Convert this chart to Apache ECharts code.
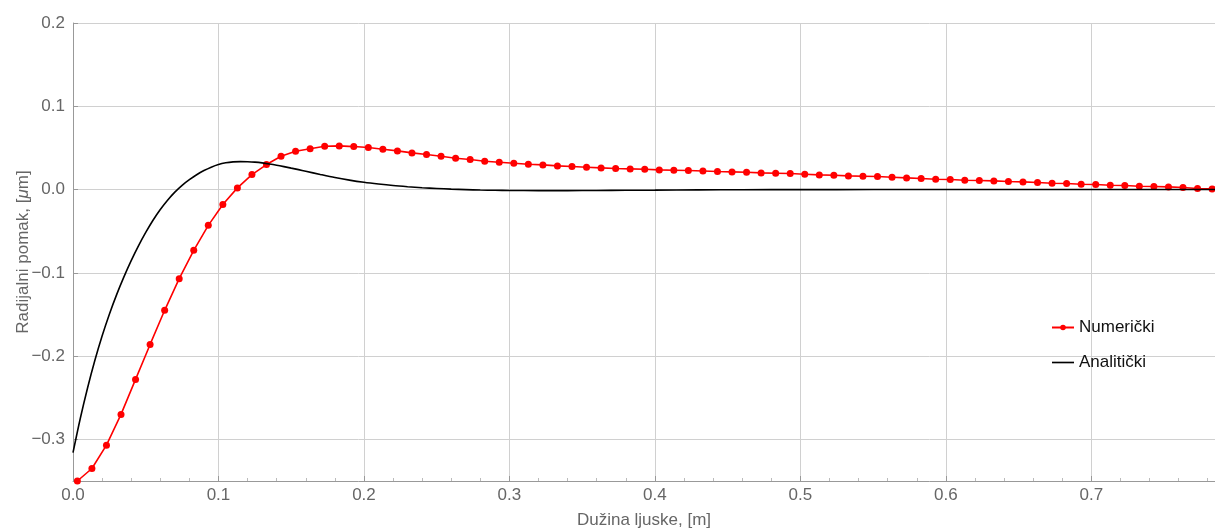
<!DOCTYPE html>
<html>
<head>
<meta charset="utf-8">
<script src="https://cdn.jsdelivr.net/npm/echarts@6/dist/echarts.min.js"></script>
<style>
html,body{margin:0;padding:0;background:#fff;}
#c{width:1215px;height:529px;}
</style>
</head>
<body>
<div id="c"></div>
<script>
// Numerical solution (red points)
const numX = [0.003,0.013,0.023,0.033,0.043,0.053,0.063,0.073,0.083,0.093,
  0.103,0.113,0.123,0.133,0.143,0.153,0.163,0.173,0.183,0.193,
  0.203,0.213,0.223,0.233,0.243,0.253,0.263,0.273,0.283,0.293,
  0.303,0.313,0.323,0.333,0.343,0.353,0.363,0.373,0.383,0.393,
  0.403,0.413,0.423,0.433,0.443,0.453,0.463,0.473,0.483,0.493,
  0.503,0.513,0.523,0.533,0.543,0.553,0.563,0.573,0.583,0.593,
  0.603,0.613,0.623,0.633,0.643,0.653,0.663,0.673,0.683,0.693,
  0.703,0.713,0.723,0.733,0.743,0.753,0.763,0.773,0.783];
const numY = [-0.35,-0.335,-0.307,-0.270,-0.228,-0.186,-0.145,-0.107,-0.073,-0.043,
  -0.018,0.002,0.018,0.030,0.040,0.046,0.049,0.052,0.0524,0.0516,
  0.0504,0.0484,0.0464,0.044,0.042,0.040,0.0376,0.036,0.034,0.0328,
  0.0316,0.0304,0.0296,0.0284,0.0276,0.0268,0.026,0.0252,0.0248,0.0244,
  0.0236,0.0232,0.0228,0.0222,0.0216,0.0212,0.0208,0.020,0.0196,0.0192,
  0.0184,0.0176,0.0172,0.0164,0.016,0.0156,0.0148,0.014,0.0132,0.0124,
  0.012,0.0112,0.0108,0.0104,0.0096,0.0092,0.0084,0.0076,0.0072,0.0064,
  0.006,0.0052,0.0048,0.004,0.0036,0.0032,0.0024,0.0012,0.0008];
// Analytical solution (black curve)
const anaX = [0,0.005,0.01,0.015,0.02,0.025,0.03,0.035,0.04,0.045,
  0.05,0.055,0.06,0.065,0.07,0.075,0.08,0.085,0.09,0.095,
  0.1,0.105,0.11,0.115,0.12,0.125,0.13,0.135,0.14,0.145,
  0.15,0.155,0.16,0.17,0.18,0.19,0.2,0.21,0.22,0.23,
  0.24,0.25,0.26,0.27,0.28,0.29,0.3,0.32,0.34,0.36,
  0.38,0.4,0.43,0.46,0.5,0.55,0.65,0.785];
const anaY = [-0.316,-0.275,-0.2383,-0.2053,-0.1759,-0.1497,-0.1262,-0.1049,-0.0854,-0.0676,
  -0.0515,-0.0369,-0.0240,-0.0128,-0.0031,0.0051,0.0118,0.0178,0.0228,0.0269,
  0.0301,0.0321,0.0332,0.03355,0.0334,0.0329,0.0320,0.0307,0.0292,0.0275,
  0.0257,0.0239,0.0220,0.0181,0.0144,0.0113,0.0087,0.0066,0.0048,0.0034,
  0.0022,0.0013,0.0005,-0.0001,-0.0006,-0.0009,-0.0011,-0.0013,-0.0013,-0.0011,
  -0.0009,-0.0007,-0.0004,-0.0002,-0.0001,0,0,0];
const xTicks = [0,0.1,0.2,0.3,0.4,0.5,0.6,0.7];
const yTicks = [-0.3,-0.2,-0.1,0,0.1,0.2];
const seriesNames = ['Numerički','Analitički'];

const fmt = v => (v < 0 ? '\u2212' : '') + Math.abs(v).toFixed(1);
const gray = '#666';
const font = 'Liberation Sans, Arial, sans-serif';

const chart = echarts.init(document.getElementById('c'));
chart.setOption({
  animation: false,
  backgroundColor: '#fff',
  grid: {left: 73, right: 0, top: 23, bottom: 48, containLabel: false, outerBoundsMode: 'none'},
  legend: {
    orient: 'vertical', left: 1046, top: 314, itemGap: 18,
    itemWidth: 22, itemHeight: 7,
    textStyle: {fontFamily: font, fontSize: 17, color: '#111'},
    data: [
      {name: seriesNames[0]},
      {name: seriesNames[1], icon: 'path://M0,0H40V3H0Z'}
    ]
  },
  xAxis: {
    type: 'value', min: 0, max: 0.785, interval: 0.1,
    name: 'Dužina ljuske, [m]', nameLocation: 'middle', nameGap: 31,
    nameTextStyle: {fontFamily: font, fontSize: 17, color: gray},
    axisLine: {show: true, onZero: false, lineStyle: {color: '#999', width: 1}},
    axisTick: {show: true, inside: true, length: 5, customValues: xTicks, lineStyle: {color: '#999'}},
    minorTick: {show: true, splitNumber: 5, length: 3, lineStyle: {color: '#bbb'}},
    axisLabel: {
      fontFamily: font, fontSize: 17, color: gray, margin: 6,
      customValues: xTicks, formatter: fmt
    },
    splitLine: {show: true, lineStyle: {color: '#d0d0d0', width: 1}}
  },
  yAxis: {
    type: 'value', min: -0.35, max: 0.2,
    name: 'Radijalni pomak, [{i|μ}m]', nameLocation: 'middle', nameGap: 41,
    nameMoveOverlap: false,
    nameTextStyle: {fontFamily: font, fontSize: 17, color: gray,
      rich: {i: {fontFamily: font, fontSize: 17, color: gray, fontStyle: 'italic'}}},
    axisLine: {show: true, onZero: false, lineStyle: {color: '#999', width: 1}},
    axisTick: {show: true, inside: true, length: 5, customValues: yTicks, lineStyle: {color: '#999'}},
    axisLabel: {fontFamily: font, fontSize: 17, color: gray, margin: 8, customValues: yTicks, formatter: fmt},
    splitLine: {show: true, lineStyle: {color: '#d0d0d0', width: 1}}
  },
  series: [
    {
      name: seriesNames[0], type: 'line',
      data: numX.map((x, i) => [x, numY[i]]),
      symbol: 'circle', symbolSize: 7, showAllSymbol: true,
      itemStyle: {color: '#ff0000'},
      lineStyle: {color: '#ff0000', width: 1.6},
      clip: true, z: 2
    },
    {
      name: seriesNames[1], type: 'line',
      data: anaX.map((x, i) => [x, anaY[i]]),
      smooth: 0.3, symbol: 'none', showSymbol: false,
      itemStyle: {color: '#000'},
      lineStyle: {color: '#000', width: 1.6},
      clip: true, z: 3
    }
  ]
});
</script>
</body>
</html>
